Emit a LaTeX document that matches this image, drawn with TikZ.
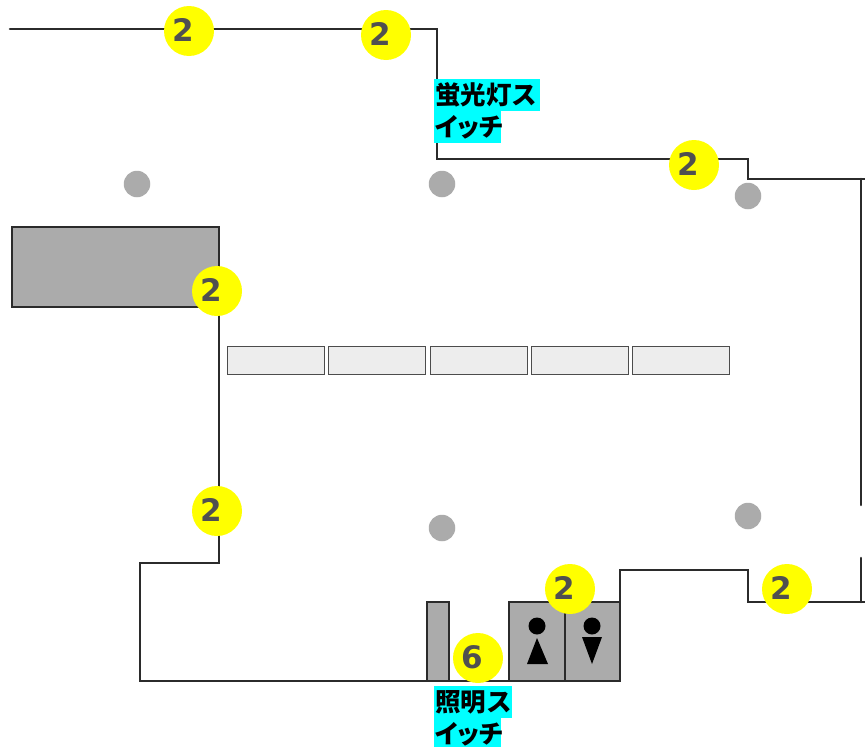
\documentclass[tikz,border=0pt]{standalone}
\usepackage{fontspec}
\setmainfont{Liberation Sans}
\newfontfamily\cjk{Noto Sans CJK JP}
\newfontfamily\cjkp{Noto Sans CJK JP}[RawFeature=+palt]
\newfontfamily\digitfont{DejaVu Sans}
\definecolor{wall}{HTML}{2B2B2B}
\definecolor{fillgray}{HTML}{ABABAB}
\definecolor{numgray}{HTML}{505050}
\definecolor{badgeyellow}{RGB}{255,255,0}
\definecolor{labelcyan}{RGB}{0,255,255}
\newcommand{\badgenum}[1]{\kern-12pt\raisebox{2pt}{#1}}
\tikzset{
 wallline/.style={draw=wall,line width=2.6pt,line cap=round,line join=miter},
 room/.style={wallline,fill=fillgray},
 pillar/.style={circle,fill=fillgray,draw=none,minimum size=26.5pt,inner sep=0pt},
 panel/.style={draw=black!70,fill=black!7,line width=0.9pt},
 badge/.style={circle,fill=badgeyellow,draw=none,minimum size=50pt,inner sep=0pt,text=numgray,font=\digitfont\bfseries\fontsize{31}{31}\selectfont},
 label/.style={fill=labelcyan,inner xsep=1pt,inner ysep=0pt,anchor=north west,align=left,text=black,minimum height=32pt},
 labela/.style={label,font=\cjk\bfseries\fontsize{25.5}{25.5}\selectfont},
 labelb/.style={label,font=\cjkp\bfseries\fontsize{25.5}{25.5}\selectfont},
 icon/.style={fill=black,draw=none}
}
\begin{document}
\begin{tikzpicture}[x=1pt,y=-1pt]
\useasboundingbox (0,0) rectangle (865,747);
% pillars
\node[pillar] (p1) at (137,184) {};
\node[pillar] (p2) at (442,184) {};
\node[pillar] (p3) at (748,196) {};
\node[pillar] (p4) at (442,528) {};
\node[pillar] (p5) at (748,516) {};
% rooms
\draw[room] (12,227) rectangle (219,307);
\draw[room] (427,602) rectangle (449,681);
\draw[room] (509,602) rectangle (565,681);
\draw[room] (565,602) rectangle (620,681);
% walls
\draw[wallline] (10,29) -- (437,29) -- (437,159) -- (748,159) -- (748,179) -- (865,179);
\draw[wallline] (861,179) -- (861,505);
\draw[wallline] (861,558) -- (861,602);
\draw[wallline] (865,602) -- (748,602) -- (748,570) -- (620,570) -- (620,681) -- (140,681) -- (140,563) -- (219,563) -- (219,307);
% panels
\foreach \x in {227,328,430,531,632}
  \draw[panel] (\x,346) rectangle +(97.5,28);
% toilet icons
\fill[icon] (537,626) circle (8.5pt);
\fill[icon] (537,638) -- (527,664) -- (548,664) -- cycle;
\fill[icon] (592,626) circle (8.5pt);
\fill[icon] (582,637) -- (602,637) -- (592,664) -- cycle;
% badges
\node[badge] (b1) at (189,31) {\badgenum{2}};
\node[badge] (b2) at (386,35) {\badgenum{2}};
\node[badge] (b3) at (694,165) {\badgenum{2}};
\node[badge] (b4) at (217,291) {\badgenum{2}};
\node[badge] (b5) at (217,511) {\badgenum{2}};
\node[badge] (b6) at (570,589) {\badgenum{2}};
\node[badge] (b7) at (787,589) {\badgenum{2}};
\node[badge] (b8) at (478,658) {\badgenum{6}};
% labels
\node[labela,text width=103.5pt] (l1) at (434,79) {蛍光灯ス};
\node[labelb,text width=65pt] (l2) at (434,111) {イッチ};
\node[labela,text width=76pt] (l3) at (434,686) {照明ス};
\node[labelb,text width=65pt] (l4) at (434,718) {イッチ};
\end{tikzpicture}
\end{document}
